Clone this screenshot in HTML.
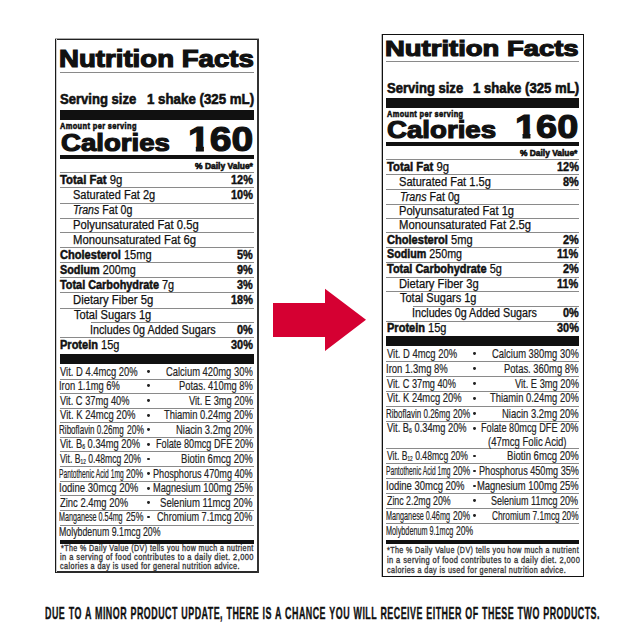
<!DOCTYPE html>
<html><head><meta charset="utf-8"><title>Nutrition Facts</title>
<style>
html,body{margin:0;padding:0;background:#fff;width:640px;height:640px;overflow:hidden;position:relative}
.t{position:absolute;white-space:nowrap;line-height:1;color:#111;font-family:'Liberation Sans', Arial, Helvetica, sans-serif;transform-origin:0 0}
.r{position:absolute}
i{font-style:italic}
.t b{-webkit-text-stroke:0.5px #111}
sub{font-size:55%;vertical-align:baseline;position:relative;top:0.15em}
</style></head><body>
<svg style="position:absolute;left:0;top:0" width="640" height="640" viewBox="0 0 640 640">
<polygon points="273,303 325,303 325,288.75 366,319.7 325,351 325,337 273,337" fill="#d50032"/>
</svg>
<div class="r" style="left:55px;top:38px;width:204.00px;height:1.00px;background:#aaa;"></div>
<div class="r" style="left:55px;top:39px;width:204.00px;height:1.00px;background:#222;"></div>
<div class="r" style="left:55px;top:571px;width:204.00px;height:2.00px;background:#2a2a2a;"></div>
<div class="r" style="left:56px;top:39px;width:1.00px;height:533.00px;background:#ccc;"></div>
<div class="r" style="left:55px;top:39px;width:1.00px;height:534.00px;background:#1a1a1a;"></div>
<div class="r" style="left:257px;top:39px;width:2.00px;height:534.00px;background:#333;"></div>
<div class="r" style="left:60px;top:72px;width:194.00px;height:1.00px;background:#8a8a8a;"></div>
<div class="r" style="left:60px;top:110px;width:194.00px;height:10.00px;background:#111;"></div>
<div class="r" style="left:60px;top:155px;width:194.00px;height:4.00px;background:#111;"></div>
<div class="r" style="left:60px;top:172px;width:194.00px;height:1.00px;background:#8a8a8a;"></div>
<div class="r" style="left:60px;top:187px;width:194.00px;height:1.00px;background:#8a8a8a;"></div>
<div class="r" style="left:60px;top:203px;width:194.00px;height:1.00px;background:#8a8a8a;"></div>
<div class="r" style="left:60px;top:218px;width:194.00px;height:1.00px;background:#8a8a8a;"></div>
<div class="r" style="left:60px;top:232px;width:194.00px;height:1.00px;background:#8a8a8a;"></div>
<div class="r" style="left:60px;top:247px;width:194.00px;height:1.00px;background:#8a8a8a;"></div>
<div class="r" style="left:60px;top:262px;width:194.00px;height:1.00px;background:#8a8a8a;"></div>
<div class="r" style="left:60px;top:277px;width:194.00px;height:1.00px;background:#8a8a8a;"></div>
<div class="r" style="left:60px;top:292px;width:194.00px;height:1.00px;background:#8a8a8a;"></div>
<div class="r" style="left:60px;top:308px;width:194.00px;height:1.00px;background:#8a8a8a;"></div>
<div class="r" style="left:60px;top:337px;width:194.00px;height:1.00px;background:#8a8a8a;"></div>
<div class="r" style="left:91px;top:322px;width:163.00px;height:1.00px;background:#8a8a8a;"></div>
<div class="r" style="left:60px;top:354px;width:194.00px;height:10.00px;background:#111;"></div>
<div class="r" style="left:60px;top:379px;width:194.00px;height:1.00px;background:#8a8a8a;"></div>
<div class="r" style="left:60px;top:393px;width:194.00px;height:1.00px;background:#8a8a8a;"></div>
<div class="r" style="left:60px;top:408px;width:194.00px;height:1.00px;background:#8a8a8a;"></div>
<div class="r" style="left:60px;top:422px;width:194.00px;height:1.00px;background:#8a8a8a;"></div>
<div class="r" style="left:60px;top:437px;width:194.00px;height:1.00px;background:#8a8a8a;"></div>
<div class="r" style="left:60px;top:451px;width:194.00px;height:1.00px;background:#8a8a8a;"></div>
<div class="r" style="left:60px;top:466px;width:194.00px;height:1.00px;background:#8a8a8a;"></div>
<div class="r" style="left:60px;top:481px;width:194.00px;height:1.00px;background:#8a8a8a;"></div>
<div class="r" style="left:60px;top:495px;width:194.00px;height:1.00px;background:#8a8a8a;"></div>
<div class="r" style="left:60px;top:510px;width:194.00px;height:1.00px;background:#8a8a8a;"></div>
<div class="r" style="left:60px;top:525px;width:194.00px;height:1.00px;background:#8a8a8a;"></div>
<div class="r" style="left:60px;top:540px;width:194.00px;height:4.00px;background:#111;"></div>
<div class="r" style="left:147px;top:370.0px;width:2.80px;height:2.80px;background:#222;border-radius:50%"></div>
<div class="r" style="left:147px;top:384.4px;width:2.80px;height:2.80px;background:#222;border-radius:50%"></div>
<div class="r" style="left:147px;top:399.0px;width:2.80px;height:2.80px;background:#222;border-radius:50%"></div>
<div class="r" style="left:147px;top:413.79999999999995px;width:2.80px;height:2.80px;background:#222;border-radius:50%"></div>
<div class="r" style="left:147px;top:427.9px;width:2.80px;height:2.80px;background:#222;border-radius:50%"></div>
<div class="r" style="left:147px;top:442.79999999999995px;width:2.80px;height:2.80px;background:#222;border-radius:50%"></div>
<div class="r" style="left:147px;top:457.7px;width:2.80px;height:2.80px;background:#222;border-radius:50%"></div>
<div class="r" style="left:147px;top:472.2px;width:2.80px;height:2.80px;background:#222;border-radius:50%"></div>
<div class="r" style="left:147px;top:486.9px;width:2.80px;height:2.80px;background:#222;border-radius:50%"></div>
<div class="r" style="left:147px;top:501.4px;width:2.80px;height:2.80px;background:#222;border-radius:50%"></div>
<div class="r" style="left:147px;top:515.5px;width:2.80px;height:2.80px;background:#222;border-radius:50%"></div>
<div class="r" style="left:382px;top:34px;width:202.00px;height:1.00px;background:#111;"></div>
<div class="r" style="left:382px;top:576px;width:202.00px;height:1.00px;background:#111;"></div>
<div class="r" style="left:381px;top:34px;width:1.00px;height:543.00px;background:#bbb;"></div>
<div class="r" style="left:382px;top:34px;width:1.00px;height:543.00px;background:#111;"></div>
<div class="r" style="left:583px;top:34px;width:1.00px;height:543.00px;background:#111;"></div>
<div class="r" style="left:386px;top:61px;width:193.00px;height:1.00px;background:#8a8a8a;"></div>
<div class="r" style="left:386px;top:98px;width:193.00px;height:10.00px;background:#111;"></div>
<div class="r" style="left:386px;top:142px;width:193.00px;height:4.00px;background:#111;"></div>
<div class="r" style="left:386px;top:159px;width:193.00px;height:1.00px;background:#8a8a8a;"></div>
<div class="r" style="left:386px;top:174px;width:193.00px;height:1.00px;background:#8a8a8a;"></div>
<div class="r" style="left:386px;top:189px;width:193.00px;height:1.00px;background:#8a8a8a;"></div>
<div class="r" style="left:386px;top:204px;width:193.00px;height:1.00px;background:#8a8a8a;"></div>
<div class="r" style="left:386px;top:218px;width:193.00px;height:1.00px;background:#8a8a8a;"></div>
<div class="r" style="left:386px;top:232px;width:193.00px;height:1.00px;background:#8a8a8a;"></div>
<div class="r" style="left:386px;top:247px;width:193.00px;height:1.00px;background:#8a8a8a;"></div>
<div class="r" style="left:386px;top:262px;width:193.00px;height:1.00px;background:#8a8a8a;"></div>
<div class="r" style="left:386px;top:277px;width:193.00px;height:1.00px;background:#8a8a8a;"></div>
<div class="r" style="left:386px;top:291px;width:193.00px;height:1.00px;background:#8a8a8a;"></div>
<div class="r" style="left:386px;top:321px;width:193.00px;height:1.00px;background:#8a8a8a;"></div>
<div class="r" style="left:413px;top:306px;width:166.00px;height:1.00px;background:#8a8a8a;"></div>
<div class="r" style="left:386px;top:336px;width:193.00px;height:10.00px;background:#111;"></div>
<div class="r" style="left:386px;top:361px;width:193.00px;height:1.00px;background:#8a8a8a;"></div>
<div class="r" style="left:386px;top:376px;width:193.00px;height:1.00px;background:#8a8a8a;"></div>
<div class="r" style="left:386px;top:391px;width:193.00px;height:1.00px;background:#8a8a8a;"></div>
<div class="r" style="left:386px;top:406px;width:193.00px;height:1.00px;background:#8a8a8a;"></div>
<div class="r" style="left:386px;top:421px;width:193.00px;height:1.00px;background:#8a8a8a;"></div>
<div class="r" style="left:386px;top:448px;width:193.00px;height:1.00px;background:#8a8a8a;"></div>
<div class="r" style="left:386px;top:463px;width:193.00px;height:1.00px;background:#8a8a8a;"></div>
<div class="r" style="left:386px;top:478px;width:193.00px;height:1.00px;background:#8a8a8a;"></div>
<div class="r" style="left:386px;top:493px;width:193.00px;height:1.00px;background:#8a8a8a;"></div>
<div class="r" style="left:386px;top:508px;width:193.00px;height:1.00px;background:#8a8a8a;"></div>
<div class="r" style="left:386px;top:523px;width:193.00px;height:1.00px;background:#8a8a8a;"></div>
<div class="r" style="left:386px;top:540px;width:193.00px;height:4.00px;background:#111;"></div>
<div class="r" style="left:473px;top:352.2px;width:2.80px;height:2.80px;background:#222;border-radius:50%"></div>
<div class="r" style="left:473px;top:367.09999999999997px;width:2.80px;height:2.80px;background:#222;border-radius:50%"></div>
<div class="r" style="left:473px;top:382.0px;width:2.80px;height:2.80px;background:#222;border-radius:50%"></div>
<div class="r" style="left:473px;top:396.9px;width:2.80px;height:2.80px;background:#222;border-radius:50%"></div>
<div class="r" style="left:473px;top:411.9px;width:2.80px;height:2.80px;background:#222;border-radius:50%"></div>
<div class="r" style="left:473px;top:426.9px;width:2.80px;height:2.80px;background:#222;border-radius:50%"></div>
<div class="r" style="left:473px;top:454.7px;width:2.80px;height:2.80px;background:#222;border-radius:50%"></div>
<div class="r" style="left:473px;top:469.59999999999997px;width:2.80px;height:2.80px;background:#222;border-radius:50%"></div>
<div class="r" style="left:473px;top:484.59999999999997px;width:2.80px;height:2.80px;background:#222;border-radius:50%"></div>
<div class="r" style="left:473px;top:499.4px;width:2.80px;height:2.80px;background:#222;border-radius:50%"></div>
<div class="r" style="left:473px;top:514.4px;width:2.80px;height:2.80px;background:#222;border-radius:50%"></div>
<div class="t" style="left:59.03px;top:48px;font-size:23.6px;font-weight:700;-webkit-text-stroke:1.2px #111;transform:scaleX(1.1703);">Nutrition Facts</div>
<div class="t" style="left:60.00px;top:91px;font-size:15px;font-weight:700;-webkit-text-stroke:0.6px #111;transform:scaleX(0.8716);">Serving size</div>
<div class="t" style="left:146.50px;top:91px;font-size:15px;font-weight:700;-webkit-text-stroke:0.6px #111;transform:scaleX(0.8864);">1 shake (325 mL)</div>
<div class="t" style="left:60.00px;top:121px;font-size:9.6px;font-weight:700;-webkit-text-stroke:0.6px #111;letter-spacing:0.5px;transform:scaleX(0.7717);">Amount per serving</div>
<div class="t" style="left:60.50px;top:131px;font-size:24.3px;font-weight:700;-webkit-text-stroke:1.2px #111;transform:scaleX(1.1354);">Calories</div>
<div class="t" style="left:187.73px;top:122px;font-size:34.4px;font-weight:700;-webkit-text-stroke:1.2px #111;transform:scaleX(1.1364);"><span style="display:inline-block;clip-path:polygon(0 0,100% 0,100% 69%,73% 69%,73% 100%,36% 100%,36% 69%,0 69%)">1</span>60</div>
<div class="t" style="left:194.50px;top:162px;font-size:8.7px;font-weight:700;-webkit-text-stroke:0.6px #111;transform:scaleX(0.9750);">% Daily Value*</div>
<div class="t" style="left:60.00px;top:174px;font-size:12px;font-weight:400;-webkit-text-stroke:0.25px #111;transform:scaleX(0.9477);"><b>Total Fat</b> 9g</div>
<div class="t" style="left:72.68px;top:189px;font-size:12px;font-weight:400;-webkit-text-stroke:0.25px #111;transform:scaleX(0.9193);">Saturated Fat 2g</div>
<div class="t" style="left:73.32px;top:204px;font-size:12px;font-weight:400;-webkit-text-stroke:0.25px #111;transform:scaleX(0.8833);"><i>Trans</i> Fat 0g</div>
<div class="t" style="left:72.66px;top:219px;font-size:12px;font-weight:400;-webkit-text-stroke:0.25px #111;transform:scaleX(0.9372);">Polyunsaturated Fat 0.5g</div>
<div class="t" style="left:72.66px;top:234px;font-size:12px;font-weight:400;-webkit-text-stroke:0.25px #111;transform:scaleX(0.9411);">Monounsaturated Fat 6g</div>
<div class="t" style="left:60.00px;top:249px;font-size:12px;font-weight:400;-webkit-text-stroke:0.25px #111;transform:scaleX(0.9217);"><b>Cholesterol</b> 15mg</div>
<div class="t" style="left:60.00px;top:264px;font-size:12px;font-weight:400;-webkit-text-stroke:0.25px #111;transform:scaleX(0.9018);"><b>Sodium</b> 200mg</div>
<div class="t" style="left:60.00px;top:279px;font-size:12px;font-weight:400;-webkit-text-stroke:0.25px #111;transform:scaleX(0.9067);"><b>Total Carbohydrate</b> 7g</div>
<div class="t" style="left:72.66px;top:294px;font-size:12px;font-weight:400;-webkit-text-stroke:0.25px #111;transform:scaleX(0.9393);">Dietary Fiber 5g</div>
<div class="t" style="left:73.60px;top:309px;font-size:12px;font-weight:400;-webkit-text-stroke:0.25px #111;transform:scaleX(0.9265);">Total Sugars 1g</div>
<div class="t" style="left:90.40px;top:324px;font-size:12px;font-weight:400;-webkit-text-stroke:0.25px #111;transform:scaleX(0.8971);">Includes 0g Added Sugars</div>
<div class="t" style="left:60.00px;top:339px;font-size:12px;font-weight:400;-webkit-text-stroke:0.25px #111;transform:scaleX(0.9180);"><b>Protein</b> 15g</div>
<div class="t" style="left:231.26px;top:174px;font-size:12px;font-weight:700;-webkit-text-stroke:0.4px #111;transform:scaleX(0.9100);">12%</div>
<div class="t" style="left:231.26px;top:189px;font-size:12px;font-weight:700;-webkit-text-stroke:0.4px #111;transform:scaleX(0.9100);">10%</div>
<div class="t" style="left:236.72px;top:249px;font-size:12px;font-weight:700;-webkit-text-stroke:0.4px #111;transform:scaleX(0.9100);">5%</div>
<div class="t" style="left:236.72px;top:264px;font-size:12px;font-weight:700;-webkit-text-stroke:0.4px #111;transform:scaleX(0.9100);">9%</div>
<div class="t" style="left:236.72px;top:279px;font-size:12px;font-weight:700;-webkit-text-stroke:0.4px #111;transform:scaleX(0.9100);">3%</div>
<div class="t" style="left:231.26px;top:294px;font-size:12px;font-weight:700;-webkit-text-stroke:0.4px #111;transform:scaleX(0.9100);">18%</div>
<div class="t" style="left:236.72px;top:324px;font-size:12px;font-weight:700;-webkit-text-stroke:0.4px #111;transform:scaleX(0.9100);">0%</div>
<div class="t" style="left:231.26px;top:339px;font-size:12px;font-weight:700;-webkit-text-stroke:0.4px #111;transform:scaleX(0.9100);">30%</div>
<div class="t" style="left:60.00px;top:366px;font-size:12.8px;font-weight:400;-webkit-text-stroke:0.2px #2a2a2a;color:#222;transform:scaleX(0.7340);">Vit. D 4.4mcg 20%</div>
<div class="t" style="left:59.27px;top:380px;font-size:12.8px;font-weight:400;-webkit-text-stroke:0.2px #2a2a2a;color:#222;transform:scaleX(0.7293);">Iron 1.1mg 6%</div>
<div class="t" style="left:60.00px;top:395px;font-size:12.8px;font-weight:400;-webkit-text-stroke:0.2px #2a2a2a;color:#222;transform:scaleX(0.7260);">Vit. C 37mg 40%</div>
<div class="t" style="left:60.00px;top:409px;font-size:12.8px;font-weight:400;-webkit-text-stroke:0.2px #2a2a2a;color:#222;transform:scaleX(0.7426);">Vit. K 24mcg 20%</div>
<div class="t" style="left:60.00px;top:438px;font-size:12.8px;font-weight:400;-webkit-text-stroke:0.2px #2a2a2a;color:#222;transform:scaleX(0.7295);">Vit. B<sub>6</sub> 0.34mg 20%</div>
<div class="t" style="left:60.00px;top:453px;font-size:12.8px;font-weight:400;-webkit-text-stroke:0.2px #2a2a2a;color:#222;transform:scaleX(0.6754);">Vit. B<sub>12</sub> 0.48mcg 20%</div>
<div class="t" style="left:59.25px;top:482px;font-size:12.8px;font-weight:400;-webkit-text-stroke:0.2px #2a2a2a;color:#222;transform:scaleX(0.7486);">Iodine 30mcg 20%</div>
<div class="t" style="left:60.00px;top:497px;font-size:12.8px;font-weight:400;-webkit-text-stroke:0.2px #2a2a2a;color:#222;transform:scaleX(0.7359);">Zinc 2.4mg 20%</div>
<div class="t" style="left:59.31px;top:526px;font-size:12.8px;font-weight:400;-webkit-text-stroke:0.2px #2a2a2a;color:#222;transform:scaleX(0.6864);">Molybdenum 9.1mcg 20%</div>
<div class="t" style="left:59.37px;top:424px;font-size:12.8px;font-weight:400;-webkit-text-stroke:0.2px #2a2a2a;color:#222;transform:scaleX(0.6312);">Riboflavin 0.26mg</div>
<div class="t" style="left:127.20px;top:424px;font-size:12.8px;font-weight:400;-webkit-text-stroke:0.2px #2a2a2a;color:#222;transform:scaleX(0.6615);">20%</div>
<div class="t" style="left:59.48px;top:468px;font-size:12.8px;font-weight:400;-webkit-text-stroke:0.2px #2a2a2a;color:#222;transform:scaleX(0.5225);">Pantothenic Acid 1mg</div>
<div class="t" style="left:126.30px;top:468px;font-size:12.8px;font-weight:400;-webkit-text-stroke:0.2px #2a2a2a;color:#222;transform:scaleX(0.6712);">20%</div>
<div class="t" style="left:59.44px;top:511px;font-size:12.8px;font-weight:400;-webkit-text-stroke:0.2px #2a2a2a;color:#222;transform:scaleX(0.5625);">Manganese 0.54mg</div>
<div class="t" style="left:126.30px;top:511px;font-size:12.8px;font-weight:400;-webkit-text-stroke:0.2px #2a2a2a;color:#222;transform:scaleX(0.6808);">25%</div>
<div class="t" style="left:166.20px;top:366px;font-size:12.8px;font-weight:400;-webkit-text-stroke:0.2px #2a2a2a;color:#222;transform:scaleX(0.7347);">Calcium 420mg 30%</div>
<div class="t" style="left:179.07px;top:380px;font-size:12.8px;font-weight:400;-webkit-text-stroke:0.2px #2a2a2a;color:#222;transform:scaleX(0.7310);">Potas. 410mg 8%</div>
<div class="t" style="left:188.90px;top:395px;font-size:12.8px;font-weight:400;-webkit-text-stroke:0.2px #2a2a2a;color:#222;transform:scaleX(0.7273);">Vit. E 3mg 20%</div>
<div class="t" style="left:164.10px;top:409px;font-size:12.8px;font-weight:400;-webkit-text-stroke:0.2px #2a2a2a;color:#222;transform:scaleX(0.7339);">Thiamin 0.24mg 20%</div>
<div class="t" style="left:176.36px;top:424px;font-size:12.8px;font-weight:400;-webkit-text-stroke:0.2px #2a2a2a;color:#222;transform:scaleX(0.7359);">Niacin 3.2mg 20%</div>
<div class="t" style="left:155.69px;top:438px;font-size:12.8px;font-weight:400;-webkit-text-stroke:0.2px #2a2a2a;color:#222;transform:scaleX(0.7148);">Folate 80mcg DFE 20%</div>
<div class="t" style="left:181.05px;top:453px;font-size:12.8px;font-weight:400;-webkit-text-stroke:0.2px #2a2a2a;color:#222;transform:scaleX(0.7484);">Biotin 6mcg 20%</div>
<div class="t" style="left:153.29px;top:468px;font-size:12.8px;font-weight:400;-webkit-text-stroke:0.2px #2a2a2a;color:#222;transform:scaleX(0.7115);">Phosphorus 470mg 40%</div>
<div class="t" style="left:153.28px;top:482px;font-size:12.8px;font-weight:400;-webkit-text-stroke:0.2px #2a2a2a;color:#222;transform:scaleX(0.7219);">Magnesium 100mg 25%</div>
<div class="t" style="left:160.15px;top:497px;font-size:12.8px;font-weight:400;-webkit-text-stroke:0.2px #2a2a2a;color:#222;transform:scaleX(0.7480);">Selenium 11mcg 20%</div>
<div class="t" style="left:157.40px;top:511px;font-size:12.8px;font-weight:400;-webkit-text-stroke:0.2px #2a2a2a;color:#222;transform:scaleX(0.7127);">Chromium 7.1mcg 20%</div>
<div class="t" style="left:60.60px;top:544px;font-size:8.7px;font-weight:400;-webkit-text-stroke:0.35px #3a3a3a;letter-spacing:0.5px;color:#333;transform:scaleX(0.8165);">*The % Daily Value (DV) tells you how much a nutrient</div>
<div class="t" style="left:60.00px;top:553px;font-size:8.7px;font-weight:400;-webkit-text-stroke:0.35px #3a3a3a;letter-spacing:0.5px;color:#333;transform:scaleX(0.8580);">in a serving of food contributes to a daily diet. 2,000</div>
<div class="t" style="left:60.00px;top:562px;font-size:8.7px;font-weight:400;-webkit-text-stroke:0.35px #3a3a3a;letter-spacing:0.5px;color:#333;transform:scaleX(0.8301);">calories a day is used for general nutrition advice.</div>
<div class="t" style="left:385.49px;top:38px;font-size:22.6px;font-weight:700;-webkit-text-stroke:1.2px #111;transform:scaleX(1.2146);">Nutrition Facts</div>
<div class="t" style="left:387.00px;top:81px;font-size:14.6px;font-weight:700;-webkit-text-stroke:0.6px #111;transform:scaleX(0.8941);">Serving size</div>
<div class="t" style="left:473.20px;top:81px;font-size:14.6px;font-weight:700;-webkit-text-stroke:0.6px #111;transform:scaleX(0.9026);">1 shake (325 mL)</div>
<div class="t" style="left:387.00px;top:109px;font-size:9.6px;font-weight:700;-webkit-text-stroke:0.6px #111;letter-spacing:0.5px;transform:scaleX(0.7677);">Amount per serving</div>
<div class="t" style="left:387.00px;top:118px;font-size:24.8px;font-weight:700;-webkit-text-stroke:1.2px #111;transform:scaleX(1.1143);">Calories</div>
<div class="t" style="left:515.36px;top:110px;font-size:33.4px;font-weight:700;-webkit-text-stroke:1.2px #111;transform:scaleX(1.1352);"><span style="display:inline-block;clip-path:polygon(0 0,100% 0,100% 69%,73% 69%,73% 100%,36% 100%,36% 69%,0 69%)">1</span>60</div>
<div class="t" style="left:520.30px;top:149px;font-size:8.7px;font-weight:700;-webkit-text-stroke:0.6px #111;transform:scaleX(0.9650);">% Daily Value*</div>
<div class="t" style="left:386.70px;top:161px;font-size:12px;font-weight:400;-webkit-text-stroke:0.25px #111;transform:scaleX(0.9431);"><b>Total Fat</b> 9g</div>
<div class="t" style="left:398.98px;top:176px;font-size:12px;font-weight:400;-webkit-text-stroke:0.25px #111;transform:scaleX(0.9235);">Saturated Fat 1.5g</div>
<div class="t" style="left:399.61px;top:191px;font-size:12px;font-weight:400;-webkit-text-stroke:0.25px #111;transform:scaleX(0.8902);"><i>Trans</i> Fat 0g</div>
<div class="t" style="left:398.97px;top:205px;font-size:12px;font-weight:400;-webkit-text-stroke:0.25px #111;transform:scaleX(0.9268);">Polyunsaturated Fat 1g</div>
<div class="t" style="left:398.96px;top:219px;font-size:12px;font-weight:400;-webkit-text-stroke:0.25px #111;transform:scaleX(0.9381);">Monounsaturated Fat 2.5g</div>
<div class="t" style="left:386.70px;top:234px;font-size:12px;font-weight:400;-webkit-text-stroke:0.25px #111;transform:scaleX(0.9228);"><b>Cholesterol</b> 5mg</div>
<div class="t" style="left:386.70px;top:248px;font-size:12px;font-weight:400;-webkit-text-stroke:0.25px #111;transform:scaleX(0.8929);"><b>Sodium</b> 250mg</div>
<div class="t" style="left:386.70px;top:263px;font-size:12px;font-weight:400;-webkit-text-stroke:0.25px #111;transform:scaleX(0.9127);"><b>Total Carbohydrate</b> 5g</div>
<div class="t" style="left:398.97px;top:278px;font-size:12px;font-weight:400;-webkit-text-stroke:0.25px #111;transform:scaleX(0.9333);">Dietary Fiber 3g</div>
<div class="t" style="left:399.90px;top:292px;font-size:12px;font-weight:400;-webkit-text-stroke:0.25px #111;transform:scaleX(0.9169);">Total Sugars 1g</div>
<div class="t" style="left:412.11px;top:307px;font-size:12px;font-weight:400;-webkit-text-stroke:0.25px #111;transform:scaleX(0.8914);">Includes 0g Added Sugars</div>
<div class="t" style="left:386.70px;top:322px;font-size:12px;font-weight:400;-webkit-text-stroke:0.25px #111;transform:scaleX(0.9188);"><b>Protein</b> 15g</div>
<div class="t" style="left:557.16px;top:161px;font-size:12px;font-weight:700;-webkit-text-stroke:0.4px #111;transform:scaleX(0.9100);">12%</div>
<div class="t" style="left:562.62px;top:176px;font-size:12px;font-weight:700;-webkit-text-stroke:0.4px #111;transform:scaleX(0.9100);">8%</div>
<div class="t" style="left:562.62px;top:234px;font-size:12px;font-weight:700;-webkit-text-stroke:0.4px #111;transform:scaleX(0.9100);">2%</div>
<div class="t" style="left:557.16px;top:248px;font-size:12px;font-weight:700;-webkit-text-stroke:0.4px #111;transform:scaleX(0.9100);">11%</div>
<div class="t" style="left:562.62px;top:263px;font-size:12px;font-weight:700;-webkit-text-stroke:0.4px #111;transform:scaleX(0.9100);">2%</div>
<div class="t" style="left:557.16px;top:278px;font-size:12px;font-weight:700;-webkit-text-stroke:0.4px #111;transform:scaleX(0.9100);">11%</div>
<div class="t" style="left:562.62px;top:307px;font-size:12px;font-weight:700;-webkit-text-stroke:0.4px #111;transform:scaleX(0.9100);">0%</div>
<div class="t" style="left:557.16px;top:322px;font-size:12px;font-weight:700;-webkit-text-stroke:0.4px #111;transform:scaleX(0.9100);">30%</div>
<div class="t" style="left:386.70px;top:348px;font-size:12.8px;font-weight:400;-webkit-text-stroke:0.2px #2a2a2a;color:#222;transform:scaleX(0.7368);">Vit. D 4mcg 20%</div>
<div class="t" style="left:385.96px;top:363px;font-size:12.8px;font-weight:400;-webkit-text-stroke:0.2px #2a2a2a;color:#222;transform:scaleX(0.7427);">Iron 1.3mg 8%</div>
<div class="t" style="left:386.70px;top:378px;font-size:12.8px;font-weight:400;-webkit-text-stroke:0.2px #2a2a2a;color:#222;transform:scaleX(0.7193);">Vit. C 37mg 40%</div>
<div class="t" style="left:386.70px;top:392px;font-size:12.8px;font-weight:400;-webkit-text-stroke:0.2px #2a2a2a;color:#222;transform:scaleX(0.7347);">Vit. K 24mcg 20%</div>
<div class="t" style="left:386.70px;top:422px;font-size:12.8px;font-weight:400;-webkit-text-stroke:0.2px #2a2a2a;color:#222;transform:scaleX(0.7259);">Vit. B<sub>6</sub> 0.34mg 20%</div>
<div class="t" style="left:386.70px;top:450px;font-size:12.8px;font-weight:400;-webkit-text-stroke:0.2px #2a2a2a;color:#222;transform:scaleX(0.6742);">Vit. B<sub>12</sub> 0.48mcg 20%</div>
<div class="t" style="left:385.96px;top:480px;font-size:12.8px;font-weight:400;-webkit-text-stroke:0.2px #2a2a2a;color:#222;transform:scaleX(0.7410);">Iodine 30mcg 20%</div>
<div class="t" style="left:386.70px;top:495px;font-size:12.8px;font-weight:400;-webkit-text-stroke:0.2px #2a2a2a;color:#222;transform:scaleX(0.6880);">Zinc 2.2mg 20%</div>
<div class="t" style="left:386.07px;top:408px;font-size:12.8px;font-weight:400;-webkit-text-stroke:0.2px #2a2a2a;color:#222;transform:scaleX(0.6267);">Riboflavin 0.26mg</div>
<div class="t" style="left:453.30px;top:408px;font-size:12.8px;font-weight:400;-webkit-text-stroke:0.2px #2a2a2a;color:#222;transform:scaleX(0.6712);">20%</div>
<div class="t" style="left:386.18px;top:465px;font-size:12.8px;font-weight:400;-webkit-text-stroke:0.2px #2a2a2a;color:#222;transform:scaleX(0.5213);">Pantothenic Acid 1mg</div>
<div class="t" style="left:453.30px;top:465px;font-size:12.8px;font-weight:400;-webkit-text-stroke:0.2px #2a2a2a;color:#222;transform:scaleX(0.6712);">20%</div>
<div class="t" style="left:386.13px;top:510px;font-size:12.8px;font-weight:400;-webkit-text-stroke:0.2px #2a2a2a;color:#222;transform:scaleX(0.5652);">Manganese 0.46mg</div>
<div class="t" style="left:453.00px;top:510px;font-size:12.8px;font-weight:400;-webkit-text-stroke:0.2px #2a2a2a;color:#222;transform:scaleX(0.6654);">20%</div>
<div class="t" style="left:386.13px;top:525px;font-size:12.8px;font-weight:400;-webkit-text-stroke:0.2px #2a2a2a;color:#222;transform:scaleX(0.5667);">Molybdenum 9.1mcg</div>
<div class="t" style="left:455.60px;top:525px;font-size:12.8px;font-weight:400;-webkit-text-stroke:0.2px #2a2a2a;color:#222;transform:scaleX(0.6692);">20%</div>
<div class="t" style="left:492.10px;top:348px;font-size:12.8px;font-weight:400;-webkit-text-stroke:0.2px #2a2a2a;color:#222;transform:scaleX(0.7347);">Calcium 380mg 30%</div>
<div class="t" style="left:504.36px;top:363px;font-size:12.8px;font-weight:400;-webkit-text-stroke:0.2px #2a2a2a;color:#222;transform:scaleX(0.7370);">Potas. 360mg 8%</div>
<div class="t" style="left:514.80px;top:378px;font-size:12.8px;font-weight:400;-webkit-text-stroke:0.2px #2a2a2a;color:#222;transform:scaleX(0.7273);">Vit. E 3mg 20%</div>
<div class="t" style="left:490.00px;top:392px;font-size:12.8px;font-weight:400;-webkit-text-stroke:0.2px #2a2a2a;color:#222;transform:scaleX(0.7339);">Thiamin 0.24mg 20%</div>
<div class="t" style="left:501.96px;top:408px;font-size:12.8px;font-weight:400;-webkit-text-stroke:0.2px #2a2a2a;color:#222;transform:scaleX(0.7388);">Niacin 3.2mg 20%</div>
<div class="t" style="left:481.18px;top:422px;font-size:12.8px;font-weight:400;-webkit-text-stroke:0.2px #2a2a2a;color:#222;transform:scaleX(0.7178);">Folate 80mcg DFE 20%</div>
<div class="t" style="left:506.95px;top:450px;font-size:12.8px;font-weight:400;-webkit-text-stroke:0.2px #2a2a2a;color:#222;transform:scaleX(0.7484);">Biotin 6mcg 20%</div>
<div class="t" style="left:478.99px;top:465px;font-size:12.8px;font-weight:400;-webkit-text-stroke:0.2px #2a2a2a;color:#222;transform:scaleX(0.7129);">Phosphorus 450mg 35%</div>
<div class="t" style="left:477.16px;top:480px;font-size:12.8px;font-weight:400;-webkit-text-stroke:0.2px #2a2a2a;color:#222;transform:scaleX(0.7365);">Magnesium 100mg 25%</div>
<div class="t" style="left:491.40px;top:495px;font-size:12.8px;font-weight:400;-webkit-text-stroke:0.2px #2a2a2a;color:#222;transform:scaleX(0.7049);">Selenium 11mcg 20%</div>
<div class="t" style="left:492.10px;top:510px;font-size:12.8px;font-weight:400;-webkit-text-stroke:0.2px #2a2a2a;color:#222;transform:scaleX(0.6470);">Chromium 7.1mcg 20%</div>
<div class="t" style="left:487.65px;top:436px;font-size:12.8px;font-weight:400;-webkit-text-stroke:0.2px #2a2a2a;color:#222;transform:scaleX(0.7462);">(47mcg Folic Acid)</div>
<div class="t" style="left:387.20px;top:546px;font-size:9.3px;font-weight:400;-webkit-text-stroke:0.35px #3a3a3a;letter-spacing:0.5px;color:#333;transform:scaleX(0.7664);">*The % Daily Value (DV) tells you how much a nutrient</div>
<div class="t" style="left:386.80px;top:556px;font-size:9.3px;font-weight:400;-webkit-text-stroke:0.35px #3a3a3a;letter-spacing:0.5px;color:#333;transform:scaleX(0.8054);">in a serving of food contributes to a daily diet. 2,000</div>
<div class="t" style="left:386.80px;top:566px;font-size:9.3px;font-weight:400;-webkit-text-stroke:0.35px #3a3a3a;letter-spacing:0.5px;color:#333;transform:scaleX(0.7786);">calories a day is used for general nutrition advice.</div>
<div class="t" style="left:44.68px;top:605px;font-size:17px;font-weight:700;-webkit-text-stroke:0.4px #111;letter-spacing:0.9px;word-spacing:1px;transform:scaleX(0.5239);">DUE TO A MINOR PRODUCT UPDATE, THERE IS A CHANCE YOU WILL RECEIVE EITHER OF THESE TWO PRODUCTS.</div>
</body></html>
